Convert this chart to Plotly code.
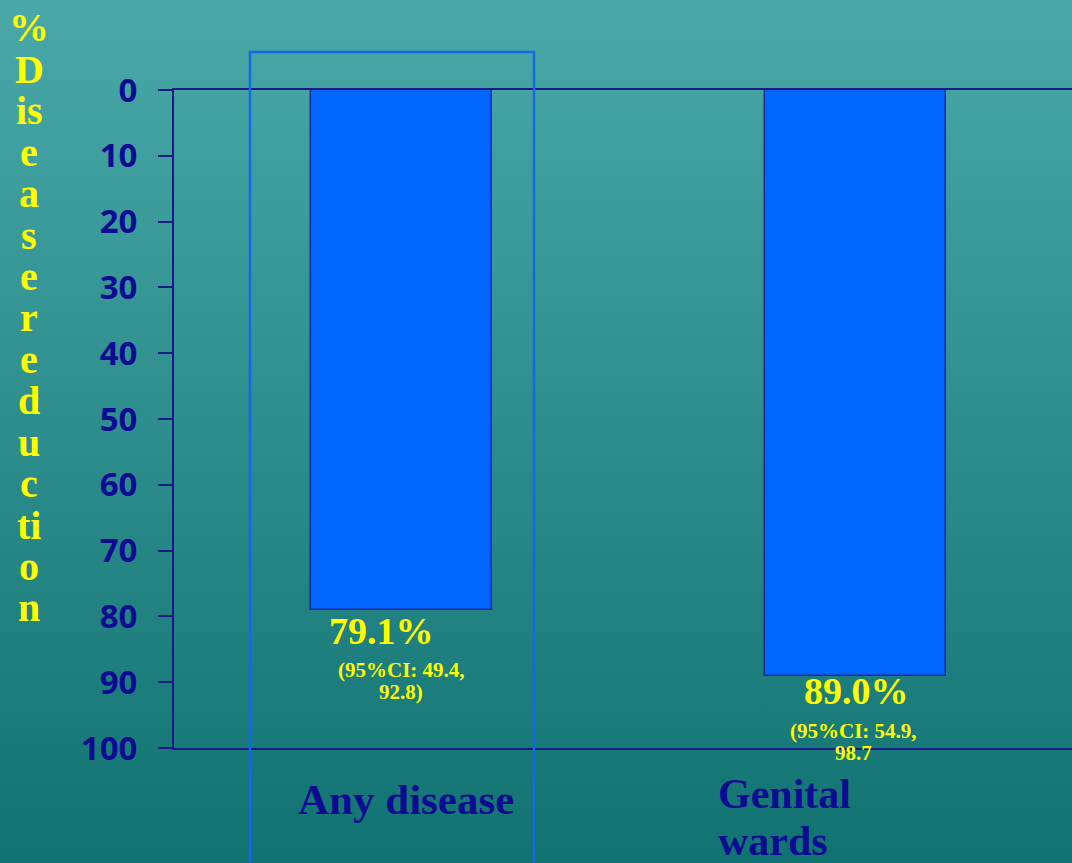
import base64
import plotly.graph_objects as go

# ---- data ----
categories = ["Any disease", "Genital wards"]
reduction_pct = [79.1, 89.0]
ci_low = [49.4, 54.9]
ci_high = [92.8, 98.7]
y_ticks = [0, 10, 20, 30, 40, 50, 60, 70, 80, 90, 100]
y_title_lines = ["%", "D", "is", "e", "a", "s", "e", "r", "e", "d", "u", "c", "ti", "o", "n"]

# ---- page geometry (pixels) ----
W, H = 1072, 863
ML, MR, MT, MB = 174, 0, 90, 115
PW, PH = W - ML - MR, H - MT - MB

NAVY = "#0c0c92"
LINE = "#1a1a86"
YELLOW = "#ffff00"
SERIF = "Liberation Serif, Times New Roman, serif"
SANS = "Open Sans, Arial, sans-serif"


def px_x(px):
    return (px - ML) / PW


def px_y(py):
    return (H - MB - py) / PH


def top_for_baseline(baseline, size, ascent=0.891, pad=1):
    # paper y of an annotation box top whose text baseline sits at the given pixel row
    return px_y(baseline - ascent * size - pad)


x_pos = list(range(len(categories)))

fig = go.Figure()
fig.add_trace(go.Bar(
    x=x_pos,
    y=reduction_pct,
    width=0.4,
    marker=dict(color="#0066ff", line=dict(color="#1a2a9c", width=1.5)),
    hoverinfo="skip",
))

# vertical gradient backdrop
svg = (
    f'<svg xmlns="http://www.w3.org/2000/svg" width="{W}" height="{H}" preserveAspectRatio="none">'
    '<defs><linearGradient id="g" x1="0" y1="0" x2="0" y2="1">'
    '<stop offset="0" stop-color="#4aa9a8"/><stop offset="1" stop-color="#107271"/>'
    '</linearGradient></defs>'
    f'<rect width="{W}" height="{H}" fill="url(#g)"/></svg>'
)
bg_uri = "data:image/svg+xml;base64," + base64.b64encode(svg.encode()).decode()

annotations = []

# stacked vertical axis title
for i, part in enumerate(y_title_lines):
    annotations.append(dict(
        text=f"<b>{part}</b>", xref="paper", yref="paper",
        x=px_x(29), y=top_for_baseline(40 + 41.43 * i, 40),
        xanchor="center", yanchor="top", showarrow=False,
        font=dict(family=SERIF, size=40, color=YELLOW),
    ))

# value and confidence-interval labels below each bar
pct_dx = [-20, 1]
pct_gap = [32, 27]
ci_gap = [65.5, 61.5]
for i, v in enumerate(reduction_pct):
    bar_end = MT + v / 100 * PH
    cx = ML + (x_pos[i] + 0.5011) * PW / 1.978
    annotations.append(dict(
        text=f"<b>{v:.1f}%</b>", xref="paper", yref="paper",
        x=px_x(cx + pct_dx[i]), y=top_for_baseline(bar_end + pct_gap[i], 38),
        xanchor="center", yanchor="top", showarrow=False,
        font=dict(family=SERIF, size=38, color=YELLOW),
    ))
    close = ")" if i == 0 else ""
    ci_lines = [f"(95%CI: {ci_low[i]:.1f},", f"{ci_high[i]:.1f}{close}"]
    for j, line in enumerate(ci_lines):
        annotations.append(dict(
            text=f"<b>{line}</b>", xref="paper", yref="paper",
            x=px_x(cx - 1.5 * i), y=top_for_baseline(bar_end + ci_gap[i] + 22 * j, 21, pad=0),
            xanchor="center", yanchor="top", showarrow=False, borderpad=0,
            font=dict(family=SERIF, size=21, color=YELLOW),
        ))

# category labels
annotations.append(dict(
    text=f"<b>{categories[0]}</b>", xref="paper", yref="paper",
    x=px_x(406), y=top_for_baseline(813, 43),
    xanchor="center", yanchor="top", showarrow=False,
    font=dict(family=SERIF, size=43, color=NAVY),
))
for j, word in enumerate(categories[1].split(" ")):
    annotations.append(dict(
        text=f"<b>{word}</b>", xref="paper", yref="paper",
        x=px_x(717), y=top_for_baseline(807.5 + 46.5 * j, 42, pad=0),
        xanchor="left", yanchor="top", showarrow=False, borderpad=0,
        font=dict(family=SERIF, size=42, color=NAVY),
    ))

fig.update_layout(
    width=W, height=H,
    margin=dict(l=ML, r=MR, t=MT, b=MB, pad=0),
    paper_bgcolor="#2d8d8c",
    plot_bgcolor="rgba(0,0,0,0)",
    showlegend=False,
    bargap=0,
    images=[dict(
        source=bg_uri, xref="paper", yref="paper",
        x=px_x(0), y=px_y(0), sizex=W / PW, sizey=H / PH,
        xanchor="left", yanchor="top", sizing="stretch", layer="below",
    )],
    xaxis=dict(
        range=[-0.5011, 1.4769], showticklabels=False, ticks="",
        showgrid=False, zeroline=False,
        showline=True, mirror=True, linecolor=LINE, linewidth=2,
    ),
    yaxis=dict(
        range=[100, 0], tickvals=y_ticks, ticktext=[str(t) for t in y_ticks],
        showgrid=False, zeroline=False,
        showline=True, mirror=False, linecolor=LINE, linewidth=2,
        ticks="outside", ticklen=14, tickwidth=2, tickcolor=LINE,
        ticklabelstandoff=14,
        tickfont=dict(family=SANS, size=33, color=NAVY, weight="bold"),
    ),
    annotations=annotations,
    shapes=[dict(
        type="path", xref="paper", yref="paper",
        path=(f"M {px_x(250)} {px_y(880)} L {px_x(250)} {px_y(52)} "
              f"L {px_x(534)} {px_y(52)} L {px_x(534)} {px_y(880)}"),
        line=dict(color="#1268ee", width=2.5), layer="above",
    )],
)

fig.write_html("out.html")
